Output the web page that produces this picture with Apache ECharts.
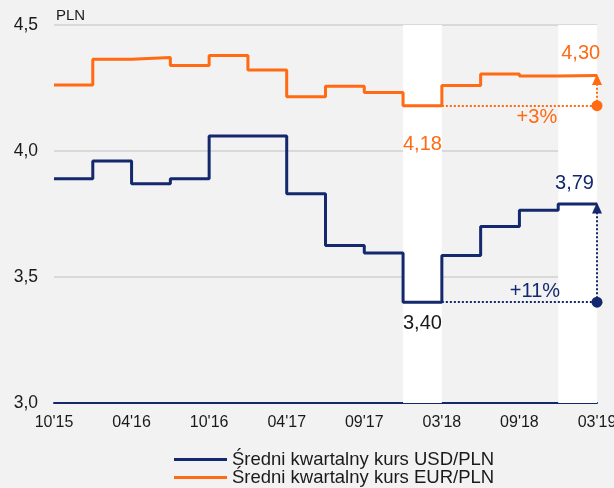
<!DOCTYPE html>
<html>
<head>
<meta charset="utf-8">
<script src="https://cdn.jsdelivr.net/npm/echarts@6/dist/echarts.min.js"></script>
<style>
  html, body { margin: 0; padding: 0; background: #f2f2f2; }
  #chart { width: 614px; height: 488px; }
</style>
</head>
<body>
<div id="chart"></div>
<script>
// quarterly averages, Q4'15 .. Q1'19
const usdValues = [3.89, 3.96, 3.87, 3.89, 4.06, 4.06, 3.83, 3.625, 3.595, 3.40, 3.585, 3.70, 3.765, 3.79];
const eurValues = [4.262, 4.364, 4.371, 4.339, 4.379, 4.321, 4.215, 4.257, 4.232, 4.18, 4.26, 4.306, 4.298, 4.30];
const tickLabels = ["10'15", "04'16", "10'16", "04'17", "09'17", "03'18", "09'18", "03'19"];
const bandQuarters = [9, 13];
const seriesNames = ['Średni kwartalny kurs USD/PLN', 'Średni kwartalny kurs EUR/PLN'];

const NAVY = '#14286e';
const ORANGE = '#ff6a13';
const FONT = '"Liberation Sans", Arial, sans-serif';

const lowQ = 9, lastQ = usdValues.length - 1;

function stepData(vals) {
  const d = vals.map(function (v, i) { return [i, v]; });
  d.push([vals.length, vals[vals.length - 1]]);
  return d;
}
function fmt(v) { return v.toFixed(2).replace('.', ','); }
function pct(vals) { return '+' + Math.round((vals[lastQ] / vals[lowQ] - 1) * 100) + '%'; }

function textPoint(x, y, text, color, dy) {
  return {
    coord: [x, y], symbol: 'circle', symbolSize: 1,
    itemStyle: { color: 'rgba(0,0,0,0)' },
    label: { show: true, position: 'inside', offset: [0, dy], formatter: text,
      color: color, fontSize: 20, fontFamily: FONT }
  };
}

function changeLines(vals, color) {
  const end = vals.length;
  return {
    silent: true,
    animation: false,
    label: { show: false },
    lineStyle: { color: color, type: [2, 2], width: 2 },
    data: [
      [{ coord: [lowQ + 1, vals[lowQ]], symbol: 'none' },
       { coord: [end, vals[lowQ]], symbol: 'circle', symbolSize: 11 }],
      [{ coord: [end, vals[lowQ]], symbol: 'none' },
       { coord: [end, vals[lastQ]], symbol: 'triangle', symbolSize: [10, 11], symbolOffset: [0, 4] }]
    ]
  };
}

function legendRow(name, top) {
  return {
    orient: 'vertical',
    left: 169,
    top: top,
    itemWidth: 53,
    itemHeight: 3,
    icon: 'rect',
    textStyle: { fontSize: 18.5, color: '#1a1a1a', fontFamily: FONT },
    data: [name]
  };
}

const chart = echarts.init(document.getElementById('chart'), null, { renderer: 'canvas' });

const option = {
  backgroundColor: '#f2f2f2',
  animation: false,
  textStyle: { fontFamily: FONT },
  grid: { left: 54, right: 17, top: 25, bottom: 85, outerBoundsMode: 'none' },
  legend: [legendRow(seriesNames[0], 445), legendRow(seriesNames[1], 463)],
  xAxis: {
    type: 'value',
    min: 0,
    max: usdValues.length,
    interval: 2,
    axisLine: { show: true, onZero: false, lineStyle: { color: NAVY, width: 2 } },
    axisTick: { show: false },
    splitLine: { show: false },
    axisLabel: {
      color: '#1a1a1a', fontSize: 16, margin: 12,
      formatter: function (v) { return tickLabels[v / 2] || ''; }
    }
  },
  yAxis: {
    type: 'value',
    min: 3.0,
    max: 4.5,
    interval: 0.5,
    axisLine: { show: false },
    axisTick: { show: false },
    splitLine: { lineStyle: { color: '#d9d9d9', width: 2 } },
    axisLabel: {
      color: '#1a1a1a', fontSize: 17.5, margin: 16,
      formatter: function (v) { return v.toFixed(1).replace('.', ','); }
    }
  },
  graphic: [{
    type: 'text', left: 56, top: 8,
    style: { text: 'PLN', fontSize: 15, fill: '#1a1a1a', fontFamily: FONT }
  }],
  series: [
    {
      name: 'bands',
      type: 'line',
      data: [],
      z: -1,
      silent: true,
      markArea: {
        silent: true,
        itemStyle: { color: '#ffffff' },
        data: bandQuarters.map(function (q) { return [{ xAxis: q }, { xAxis: q + 1 }]; })
      }
    },
    {
      name: seriesNames[0],
      type: 'line',
      step: 'end',
      data: stepData(usdValues),
      showSymbol: false,
      color: NAVY,
      lineStyle: { color: NAVY, width: 3 },
      z: 3,
      markLine: changeLines(usdValues, NAVY),
      markPoint: {
        silent: true,
        data: [
          textPoint(lowQ + 0.5, usdValues[lowQ], fmt(usdValues[lowQ]), '#1a1a1a', 21),
          textPoint(lastQ + 0.42, usdValues[lastQ], fmt(usdValues[lastQ]), NAVY, -20),
          textPoint(lastQ - 0.6, usdValues[lowQ], pct(usdValues), NAVY, -11)
        ]
      }
    },
    {
      name: seriesNames[1],
      type: 'line',
      step: 'end',
      data: stepData(eurValues),
      showSymbol: false,
      color: ORANGE,
      lineStyle: { color: ORANGE, width: 3 },
      z: 3,
      markLine: changeLines(eurValues, ORANGE),
      markPoint: {
        silent: true,
        data: [
          textPoint(lowQ + 0.5, eurValues[lowQ], fmt(eurValues[lowQ]), ORANGE, 39),
          textPoint(lastQ + 0.58, eurValues[lastQ], fmt(eurValues[lastQ]), ORANGE, -22),
          textPoint(lastQ - 0.55, eurValues[lowQ], pct(eurValues), ORANGE, 12)
        ]
      }
    }
  ]
};

chart.setOption(option);
</script>
</body>
</html>
